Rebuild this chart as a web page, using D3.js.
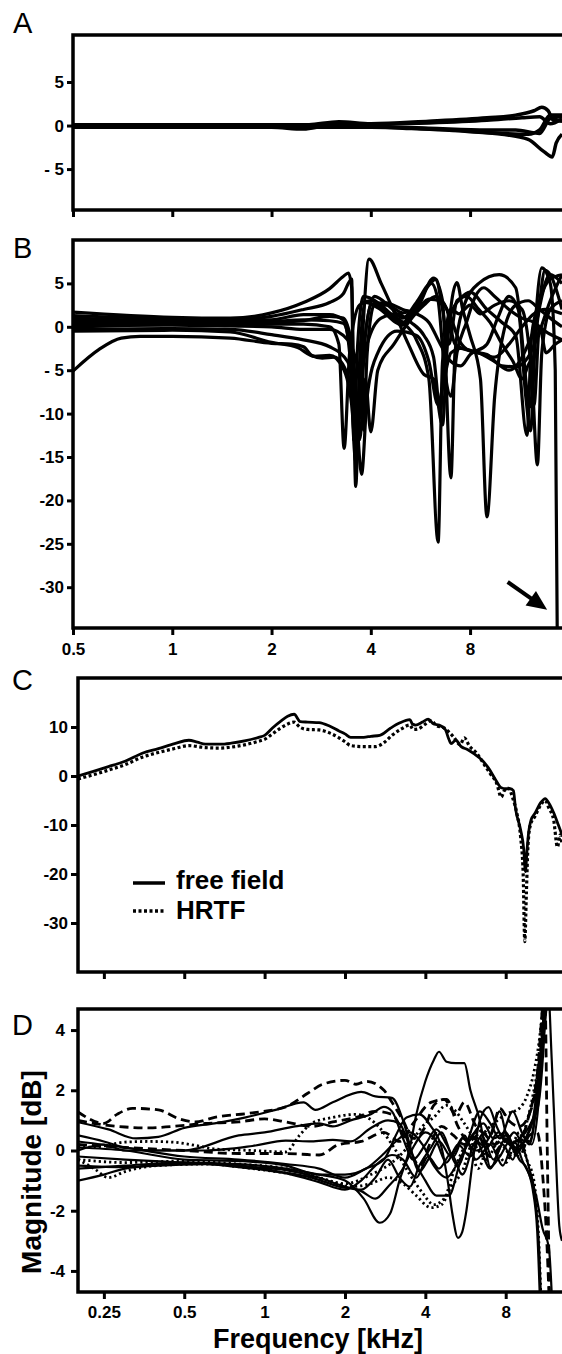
<!DOCTYPE html>
<html><head><meta charset="utf-8">
<script src="https://d3js.org/d3.v7.min.js"></script>
<style>body{margin:0;background:#fff} svg{display:block} text{font-family:"Liberation Sans",Arial,sans-serif}</style>
</head><body><svg id="c" width="562" height="1354"></svg>
<script>
// ---------- tick values / labels ----------
const xTicksAB = [0.5, 1, 2, 4, 8];
const xLabelsB = ["0.5", "1", "2", "4", "8"];
const xTicksCD = [0.25, 0.5, 1, 2, 4, 8];
const xLabelsD = ["0.25", "0.5", "1", "2", "4", "8"];
const yTicksA = [-5, 0, 5];
const yLabelsA = ["- 5", "0", "5"];
const yTicksB = [-30, -25, -20, -15, -10, -5, 0, 5];
const yLabelsB = ["-30", "-25", "-20", "-15", "-10", "- 5", "0", "5"];
const yTicksC = [-30, -20, -10, 0, 10];
const yLabelsC = ["-30", "-20", "-10", "0", "10"];
const yTicksD = [-4, -2, 0, 2, 4];
const yLabelsD = ["-4", "-2", "0", "2", "4"];
const panelLetters = ["A", "B", "C", "D"];
const legendLabels = ["free field", "HRTF"];

// ---------- Panel A data: [kHz, dB] ----------
const a1 = [[0.5,0],[2,0],[2.6,0.1],[3.2,0.45],[4,0.2],[6,0.5],[9,0.9],[11,1.2],[12.5,1.7],[13.2,2.1],[13.8,1.7],[14.3,0.6],[15.2,0.5]];
const a2 = [[0.5,-0.1],[2,-0.2],[2.5,-0.4],[3,0],[5,-0.3],[8,-0.7],[10,-1.0],[12,-1.6],[13.4,-3.0],[14.2,-3.6],[14.6,-2.0],[15.2,-1.0]];
const a3 = [[0.5,0.1],[3,0.1],[6,0.3],[9,0.6],[11.5,0.9],[13,1.0],[14,0.2],[15.2,0.8]];
const a4 = [[0.5,0],[3,0],[6,-0.3],[9,-0.5],[11,-0.5],[13,-0.9],[14,0.8],[15.2,1.0]];
const a5 = [[0.5,-0.2],[4,-0.2],[7,-0.5],[10,-0.9],[12,-1.0],[13,-0.5],[14,1.2],[15.2,1.2]];
const curvesA = [a1, a2, a3, a4, a5];

// ---------- Panel B data ----------
const b1 = [[0.5,1.7],[1,1.1],[1.5,1.0],[2,1.6],[2.5,2.8],[3,4.4],[3.3,5.8],[3.42,6.2],[3.5,4.5],[3.6,-18.4],[3.7,-4],[3.85,2.8],[4.2,2.2],[5,0.2],[5.6,2.5],[6.2,5.6],[6.6,3],[7,-17.4],[7.2,-3],[7.6,2],[8.5,5],[9.8,6],[11,4.5],[12.2,-9.2],[12.6,0],[13.2,6.8],[14,5],[14.5,-5],[14.7,-34.7]];
const b2 = [[0.5,1.3],[1,0.9],[1.5,0.8],[2,1.2],[2.5,2.0],[3,2.8],[3.3,3.8],[3.5,5.5],[3.55,-13],[3.65,-2],[3.8,3.5],[4.2,2.8],[4.6,1.5],[5,0.5],[5.5,-1.5],[6.0,-6],[6.4,-24.8],[6.6,-4],[7.0,1.5],[7.5,3.3],[8,4],[9,2],[10,0.5],[11,-1],[11.9,-12.5],[12.3,-1],[13,3],[14,5.5],[15.2,6]];
const b3 = [[0.5,1.0],[1,0.7],[1.5,0.7],[2,0.8],[2.5,1.4],[3,1.4],[3.3,0.8],[3.45,-3],[3.6,-15.5],[3.75,-3],[3.95,7.8],[4.3,5],[4.8,1],[5.2,-2],[5.8,-5.5],[6.2,-6],[6.6,-11.3],[6.8,-3],[7.3,5.1],[7.6,2],[8,-1],[8.6,-6],[9,-21.9],[9.5,-8],[10.2,0],[11,2.5],[12,3],[13,2],[14,1],[15.2,0]];
const b4 = [[0.5,0.5],[1,0.4],[1.5,0.3],[2,0.3],[2.5,0.3],[3,0.0],[3.2,-2],[3.32,-14],[3.45,-3],[3.7,2.5],[4.0,3.0],[4.5,1.5],[5,0.5],[5.5,2.5],[6.0,4.8],[6.3,5.5],[6.6,2],[6.9,-2],[7.3,3],[7.8,3.5],[8.5,2],[9.2,0.5],[10,-2],[10.8,-4],[11.5,-6],[12.2,-4],[12.8,-15.9],[13.2,-3],[14,2],[15.2,3]];
const b5 = [[0.5,0.2],[1,0.2],[1.5,0.1],[2,0.0],[2.5,-0.3],[3,-0.3],[3.4,-1.5],[3.7,-6],[3.8,-11.9],[3.9,-3],[4.1,2.5],[4.5,2.5],[5,1.6],[5.5,2.0],[6,3.2],[6.5,3],[7,1],[7.4,-1.5],[8,-2.8],[9,-3.2],[10,-4.5],[11,-4.6],[12,-3.5],[13,-0.5],[14,3],[15.2,6]];
const b6 = [[0.5,-0.3],[1,-0.2],[1.5,-0.3],[2,-0.9],[2.5,-1.5],[3,-2.3],[3.4,-4],[3.6,-8],[3.7,-13],[3.85,-6],[4.0,-12.1],[4.2,-5],[4.7,-2],[5.2,0.5],[5.8,2.5],[6.3,3.5],[6.8,2],[7.2,-2],[7.6,-2.5],[8.5,-3],[9.5,-4],[10.5,-5],[11.3,-4],[12,-2],[12.8,1],[13.5,6.5],[14,6],[15.2,2]];
const b7 = [[0.5,-0.5],[1,-0.4],[1.5,-0.6],[2,-1.8],[2.4,-2.4],[2.7,-3.4],[3,-3.3],[3.3,-4.8],[3.5,-9],[3.6,-14],[3.7,-8],[3.9,-2],[4.3,1.0],[4.8,1.5],[5.3,0.5],[5.8,-1],[6.2,-3.5],[6.5,-9.6],[6.7,-2],[7.0,2],[7.4,1.5],[8,2.5],[8.6,1.5],[9.5,2.5],[10.5,3.0],[11.5,2],[12.2,-4],[12.5,-9],[13,0],[13.6,-3],[14.5,-2],[15.2,-1.5]];
const b8 = [[0.5,-5.1],[0.6,-2.6],[0.7,-1.3],[0.8,-1.1],[1,-1.1],[1.5,-1.3],[2,-1.9],[2.3,-2.0],[2.5,-2.3],[2.65,-3.3],[2.85,-3.6],[3.1,-3.5],[3.4,-5.5],[3.6,-9],[3.75,-17],[3.9,-8],[4.2,-3],[4.8,-0.5],[5.5,-1],[6,-4],[6.4,-9],[6.6,-7],[7,-3],[7.5,-2.5],[8.5,-3],[9.5,-3.5],[10.5,-2],[11.5,0],[12.5,1.5],[13.5,2],[15.2,1.5]];
const b9 = [[0.5,0],[1,0.3],[1.5,0.5],[2,0.6],[2.5,0.8],[3,0.7],[3.3,0.4],[3.5,-4],[3.65,-12],[3.8,-3],[4.0,2.5],[4.4,2.8],[5,2.0],[5.5,1.5],[6,0.5],[6.5,-2],[7,-4],[7.5,-4.5],[8,-3.2],[9,-2],[9.7,1],[10.5,3.5],[11.2,2],[11.8,-8],[12.2,-12],[12.6,-2],[13.3,4],[14,6],[15.2,5]];
const b10 = [[0.5,0.8],[1,0.6],[1.5,0.6],[2,0.5],[2.5,0.7],[3,1.2],[3.3,1.0],[3.5,-2],[3.7,-10],[3.85,-1],[4.1,3.5],[4.6,2.2],[5,1],[5.5,2.8],[6.1,5],[6.4,3],[6.7,-5],[7.0,-8],[7.3,-3],[7.8,0.5],[8.3,3.5],[8.8,4.5],[9.5,3.5],[10.5,2],[11.5,1],[12.5,0.5],[13.5,-0.5],[15.2,-1.5]];
const curvesB = [b1, b2, b3, b4, b5, b6, b7, b8, b9, b10];
// arrow annotation (tail, tip) in [kHz, dB]
const arrowB = [[10.4, -29.4], [13.7, -32.6]];

// ---------- Panel C data ----------
const freeField = [[0.2,0],[0.23,1.0],[0.26,1.9],[0.3,3.0],[0.35,4.7],[0.4,5.6],[0.46,6.6],[0.52,7.3],[0.56,6.9],[0.6,6.5],[0.68,6.5],[0.75,6.7],[0.85,7.2],[0.95,7.9],[1.0,8.3],[1.07,9.8],[1.15,11.2],[1.22,12.2],[1.29,12.6],[1.36,11.1],[1.45,11.0],[1.6,10.9],[1.75,10.2],[1.9,9.2],[2.0,8.6],[2.1,7.9],[2.35,7.9],[2.5,8.1],[2.7,8.3],[2.95,9.7],[3.2,10.8],[3.5,11.5],[3.58,10.6],[3.68,10.4],[3.9,11.0],[4.1,11.6],[4.3,10.6],[4.5,10.4],[4.75,9.5],[4.9,7.5],[5.0,6.6],[5.2,7.3],[5.45,6.0],[5.75,5.4],[6.1,4.5],[6.5,3.3],[6.9,1.6],[7.3,-0.6],[7.7,-2.4],[8.0,-2.6],[8.3,-2.6],[8.55,-3.0],[8.7,-6.5],[9.1,-11],[9.35,-15],[9.48,-19.5],[9.62,-15],[9.75,-11.5],[9.95,-9],[10.3,-7.6],[10.8,-5.5],[11.25,-4.6],[11.6,-5.5],[12.1,-7.5],[12.6,-10],[13,-12]];
const hrtf = [[0.2,-0.6],[0.23,0.3],[0.26,1.2],[0.3,2.3],[0.35,3.9],[0.4,4.8],[0.46,5.6],[0.52,6.2],[0.6,5.8],[0.68,5.7],[0.75,5.9],[0.85,6.4],[0.95,7.1],[1.0,7.5],[1.07,8.6],[1.15,9.8],[1.22,10.6],[1.29,11.0],[1.36,9.9],[1.45,9.5],[1.6,9.4],[1.75,8.8],[1.9,7.8],[2.0,7.0],[2.1,6.2],[2.35,6.0],[2.6,6.0],[2.8,6.8],[3.0,8.3],[3.25,9.6],[3.5,10.4],[3.6,9.5],[3.75,9.6],[4.0,10.6],[4.2,11.3],[4.4,10.3],[4.7,9.8],[4.9,9.0],[5.1,8.0],[5.4,6.4],[5.6,7.8],[5.85,6.1],[6.2,4.8],[6.6,2.6],[7.0,0.5],[7.4,-1.5],[7.7,-4.3],[7.9,-3.0],[8.2,-2.5],[8.5,-4.5],[8.8,-7.5],[9.1,-12.5],[9.3,-20],[9.43,-33.8],[9.56,-24],[9.7,-14],[9.9,-10],[10.3,-8.2],[10.8,-6],[11.25,-5],[11.6,-6.5],[12.1,-9],[12.5,-14.5],[12.8,-12],[13,-14]];

// ---------- Panel D data ----------
const dc1 = [[0.2,0.94],[0.26,0.7],[0.33,0.4],[0.4,0.45],[0.5,0.75],[0.65,0.9],[0.85,1.1],[1.1,1.35],[1.4,1.6],[1.55,1.35],[1.8,1.6],[2.3,1.95],[2.6,1.8],[3.0,1.75],[3.3,1.0],[3.6,-0.2],[4.0,-1.0],[4.4,-1.5],[4.9,-1.5],[5.4,-0.4],[6,0.4],[6.8,0.1],[7.5,0.6],[8.3,0.2],[9,0.4],[9.8,0.8],[10.5,1.6],[11.0,3.4],[11.4,4.8],[11.7,5.5]];
const dc2 = [[0.2,1.28],[0.25,0.9],[0.28,1.2],[0.32,1.4],[0.4,1.35],[0.48,1.05],[0.55,0.95],[0.65,1.1],[0.9,1.25],[1.2,1.45],[1.45,1.9],[1.65,2.2],[2.0,2.33],[2.2,2.2],[2.4,2.3],[2.8,2.0],[3.0,1.6],[3.3,1.0],[3.6,0.4],[4.0,0.8],[4.3,1.5],[4.7,1.7],[5.2,1.2],[5.6,1.6],[6.2,0.8],[7,0.5],[7.6,1.4],[8.2,1.0],[9,0.8],[9.8,1.2],[10.5,2.5],[11.0,4.8],[11.2,5.5],[11.45,0],[11.7,-5.5]];
const dc3 = [[0.2,1.0],[0.25,0.85],[0.3,0.78],[0.37,0.75],[0.45,0.8],[0.6,0.9],[0.8,0.95],[1.0,1.05],[1.2,0.95],[1.5,0.8],[1.8,0.95],[2.2,1.1],[2.6,1.3],[3.0,1.2],[3.4,0.3],[3.8,-0.5],[4.2,0.3],[4.6,0.8],[5.1,0.5],[5.6,0.2],[6.2,0.6],[7,-0.2],[8,0.3],[9,-0.2],[9.8,0.5],[10.5,0.6],[11.0,-0.8],[11.4,-3],[11.7,-5.5]];
const dc4 = [[0.2,0.2],[0.3,0.1],[0.5,0.0],[0.8,-0.1],[1.2,-0.1],[1.6,-0.15],[1.9,0.2],[2.3,0.3],[2.8,0.6],[3.2,0.3],[3.6,0.9],[4.2,1.6],[4.8,1.7],[5.3,0.8],[5.8,0.3],[6.5,0.6],[7.3,0.2],[8,0.5],[9,0.3],[9.8,1.2],[10.4,2.2],[11.0,4],[11.4,5.5]];
const dc5 = [[0.2,0.1],[0.25,0.15],[0.3,0.28],[0.37,0.3],[0.45,0.28],[0.55,0.17],[0.65,0.05],[0.9,0],[1.2,-0.05],[1.35,0.5],[1.5,0.9],[1.8,1.1],[2.2,1.2],[2.6,0.9],[3.0,0.2],[3.5,-0.8],[3.9,-1.4],[4.3,-1.8],[4.7,-1.6],[5.2,-0.5],[5.8,0.2],[6.3,-0.6],[7,0.3],[8,-0.4],[9,0.6],[9.6,-0.3],[10.2,-1],[10.6,-2.7],[10.9,-5.5]];
const dc6 = [[0.2,-0.3],[0.23,-0.6],[0.26,-0.9],[0.3,-0.7],[0.4,-0.5],[0.6,-0.45],[0.9,-0.6],[1.3,-0.8],[1.7,-1.0],[2.1,-1.2],[2.5,-1.1],[2.9,-0.9],[3.3,-1.1],[3.7,-1.5],[4.2,-1.9],[4.6,-1.8],[5.0,-1.2],[5.5,-0.7],[6,0.2],[6.8,-0.3],[7.5,0.3],[8.5,-0.2],[9.5,0.8],[10.1,1.8],[10.7,3.2],[11.2,5.5]];
const dc7 = [[0.2,-0.3],[0.3,-0.4],[0.5,-0.35],[0.8,-0.45],[1.2,-0.6],[1.6,-0.9],[2.0,-1.1],[2.5,-0.8],[3.0,-0.4],[3.5,0.2],[3.9,0.8],[4.3,1.1],[4.8,1.5],[5.2,1.3],[5.6,0.9],[6.2,0.4],[7,0.8],[8,1.2],[9,1.4],[9.6,1.8],[10.2,2.6],[10.8,4],[11.2,5.5]];
const dc8 = [[0.2,-0.5],[0.3,-0.55],[0.5,-0.4],[0.8,-0.45],[1.2,-0.6],[1.6,-0.8],[2.0,-1.0],[2.35,-1.6],[2.7,-2.4],[2.95,-2.1],[3.2,-1.0],[3.5,0.1],[3.7,1.2],[4.0,2.3],[4.3,3.0],[4.5,3.28],[4.8,2.95],[5.2,2.9],[5.6,2.9],[5.9,2.0],[6.4,1.0],[6.7,0.1],[7.0,-0.55],[7.6,-0.2],[8.3,0.3],[9,-0.3],[9.6,-0.6],[10.1,-1.3],[10.5,-2.7],[10.8,-5.5]];
const dc9 = [[0.2,0.3],[0.3,0.1],[0.5,-0.2],[0.8,-0.3],[1.2,-0.45],[1.6,-0.6],[2.0,-0.9],[2.4,-0.6],[2.8,-0.3],[3.1,0.5],[3.4,1.1],[3.8,1.2],[4.2,0.8],[4.6,0.1],[4.85,-1.0],[5.05,-2.1],[5.3,-2.9],[5.5,-2.7],[5.7,-2.0],[6.0,-0.45],[6.4,1.0],[6.9,1.44],[7.4,0.8],[8,0.3],[8.6,0.6],[9.2,0.2],[9.8,-0.6],[10.3,-1.5],[10.7,-3.5],[10.9,-5.5]];
const dc10 = [[0.2,0.5],[0.25,0.3],[0.3,0.1],[0.4,0.0],[0.6,0.0],[0.9,0.15],[1.2,0.33],[1.5,0.3],[1.8,0.35],[2.1,0.3],[2.5,0.75],[2.9,1.0],[3.2,0.9],[3.5,0.1],[3.8,-0.7],[4.1,-0.3],[4.5,0.3],[5.0,-0.2],[5.5,0.4],[6.2,0.0],[7,0.5],[7.6,1.3],[8,0.6],[8.8,0.1],[9.5,0.3],[10,0.2],[10.6,1.5],[11.1,4.2],[11.4,5.5]];
const dc11 = [[0.2,0.0],[0.25,0.2],[0.3,0.0],[0.5,0.0],[0.8,0.5],[1.0,0.6],[1.3,0.8],[1.6,0.9],[1.8,0.8],[2.1,1.0],[2.5,1.2],[2.8,1.45],[3.0,1.3],[3.3,0.4],[3.6,-0.3],[4.0,0.2],[4.4,0.7],[4.8,0.2],[5.3,-0.5],[5.8,0.4],[6.4,1.3],[7,0.9],[7.6,0.4],[8.5,1.3],[9.2,0.6],[9.8,0.2],[10.4,1.4],[10.9,3.4],[11.3,5.5]];
const dc12 = [[0.2,-0.6],[0.3,-0.5],[0.5,-0.4],[0.8,-0.55],[1.1,-0.7],[1.5,-0.9],[1.9,-1.2],[2.3,-1.35],[2.6,-1.6],[2.9,-1.2],[3.3,-0.6],[3.6,0.1],[4.0,0.6],[4.4,0.3],[4.8,-0.4],[5.3,0.2],[5.9,-0.2],[6.5,0.5],[7.2,-0.3],[8,0.4],[8.8,-0.1],[9.5,0.4],[10.1,1],[10.7,2.8],[11.2,4.5],[11.5,5.5],[11.9,3],[12.3,0],[12.7,-2.5],[13,-3]];
const dc13 = [[0.2,-1.0],[0.25,-0.8],[0.3,-0.6],[0.4,-0.5],[0.6,-0.45],[0.9,-0.55],[1.2,-0.65],[1.6,-0.9],[2.0,-1.2],[2.3,-1.3],[2.6,-0.9],[2.9,-0.3],[3.2,-0.9],[3.5,-1.2],[3.8,-0.5],[4.2,0.1],[4.6,0.6],[5.1,-0.2],[5.6,0.5],[6.2,-0.3],[7,0.2],[7.8,-0.5],[8.6,0.3],[9.3,-0.4],[9.8,-0.8],[10.4,-1.5],[11.0,-2.6],[11.6,-3.2],[12.0,-5.5]];
const dc14 = [[0.2,-0.2],[0.3,-0.3],[0.5,-0.4],[0.8,-0.5],[1.2,-0.75],[1.6,-1.05],[2.0,-1.3],[2.3,-1.0],[2.6,-0.5],[3.0,-0.15],[3.3,-0.3],[3.7,-0.9],[4.1,-0.2],[4.5,-0.6],[5,-0.1],[5.5,-0.8],[6.2,0.3],[7,-0.6],[7.8,0.2],[8.5,-0.3],[9.2,0.5],[9.8,0.3],[10.4,1.5],[11,4],[11.3,5.5]];
const dc15 = [[0.2,0.1],[0.3,0.0],[0.5,-0.3],[0.8,-0.35],[1.2,-0.5],[1.6,-0.8],[2.0,-0.8],[2.4,-0.6],[2.8,-0.1],[3.1,0.3],[3.5,0.6],[3.9,0.2],[4.3,-0.5],[4.8,-0.9],[5.3,-0.4],[6.0,0.5],[6.6,0.9],[7.2,0.4],[8,0.6],[8.8,0.0],[9.5,0.4],[10,0.9],[10.6,1.5],[11.1,3.5],[11.4,5.5]];
const curvesD = [dc1, dc2, dc3, dc4, dc5, dc6, dc7, dc8, dc9, dc10, dc11, dc12, dc13, dc14, dc15];
// line style of each D curve (style only)
const styleD = ["solid","dashed","dashed","dashed","dotted","dotted","dotted","solid","solid","solid","solid","solid","solid","solid","solid"];

// ---------- drawing ----------
const svg = d3.select("#c");
const FONT = '"Liberation Sans", Arial, sans-serif';
const RIGHT = 566;

const xAB = d3.scaleLog().domain([0.5, 15.2]).range([73, 562]);
const xCD = d3.scaleLog().domain([0.2, 13]).range([78, 562]);
const yA = d3.scaleLinear().domain([-9.7, 10.4]).range([210, 35]);
const yB = d3.scaleLinear().domain([-34.7, 10]).range([628, 240]);
const yC = d3.scaleLinear().domain([-40, 20]).range([972, 678]);
const yD = d3.scaleLinear().domain([-4.7, 4.7]).range([1292, 1009]);

function panel(id, x, y, yTicks, yLabels, xTicks, xLabels, opts) {
  const [y1, y0] = y.range();
  const x0 = x.range()[0];
  const g = svg.append("g");
  g.append("clipPath").attr("id", "clip" + id)
    .append("rect").attr("x", x0).attr("y", y0).attr("width", RIGHT - x0).attr("height", y1 - y0);
  const plot = g.append("g").attr("clip-path", `url(#clip${id})`);
  const ya = g.append("g").attr("transform", `translate(${x0},0)`)
    .call(d3.axisLeft(y).tickValues(yTicks).tickSize(opts.yTick).tickPadding(opts.yPad)
      .tickFormat((d, i) => yLabels[i]));
  ya.select(".domain").remove();
  ya.selectAll("line").attr("stroke", "#000").attr("stroke-width", 3);
  ya.selectAll("text").attr("font-family", FONT).attr("font-weight", "bold")
    .attr("font-size", opts.fs).attr("fill", "#000");
  const xa = g.append("g").attr("transform", `translate(0,${y1})`)
    .call(d3.axisBottom(x).tickValues(xTicks).tickSize(7).tickPadding(opts.xPad)
      .tickFormat((d, i) => xLabels ? xLabels[i] : ""));
  xa.select(".domain").remove();
  xa.selectAll("line").attr("stroke", "#000").attr("stroke-width", 3);
  xa.selectAll("text").attr("font-family", FONT).attr("font-weight", "bold")
    .attr("font-size", opts.fs).attr("fill", "#000");
  g.append("rect").attr("x", x0).attr("y", y0).attr("width", RIGHT + 10 - x0).attr("height", y1 - y0)
    .attr("fill", "none").attr("stroke", "#000").attr("stroke-width", 3.5);
  return plot;
}

function letter(t, x, y) {
  svg.append("text").attr("x", x).attr("y", y).text(t)
    .attr("font-family", FONT).attr("font-size", 29).attr("fill", "#000");
}

const mkLine = (x, y) => d3.line().x(d => x(d[0])).y(d => y(d[1])).curve(d3.curveMonotoneX);

// Panel A
const pA = panel("A", xAB, yA, yTicksA, yLabelsA, xTicksAB, null, {yTick: 6, yPad: 3, xPad: 8, fs: 17});
curvesA.forEach(c => pA.append("path").attr("d", mkLine(xAB, yA)(c))
  .attr("fill", "none").attr("stroke", "#000").attr("stroke-width", 3.5).attr("stroke-linejoin", "round"));
letter(panelLetters[0], 13, 33);

// Panel B
const pB = panel("B", xAB, yB, yTicksB, yLabelsB, xTicksAB, xLabelsB, {yTick: 6, yPad: 3, xPad: 8, fs: 17});
curvesB.forEach(c => pB.append("path").attr("d", mkLine(xAB, yB)(c))
  .attr("fill", "none").attr("stroke", "#000").attr("stroke-width", 3.2).attr("stroke-linejoin", "round"));
letter(panelLetters[1], 13, 258);
{
  const [t, h] = arrowB;
  const tx = xAB(t[0]), ty = yB(t[1]), hx = xAB(h[0]), hy = yB(h[1]);
  const dx = hx - tx, dy = hy - ty, L = Math.hypot(dx, dy), ux = dx / L, uy = dy / L;
  const hl = 20, hw = 9;
  const bx = hx - ux * hl, by = hy - uy * hl;
  svg.append("line").attr("x1", tx).attr("y1", ty).attr("x2", bx + ux * 2).attr("y2", by + uy * 2)
    .attr("stroke", "#000").attr("stroke-width", 4);
  svg.append("path").attr("d", `M${hx},${hy}L${bx - uy * hw},${by + ux * hw}L${bx + uy * hw},${by - ux * hw}Z`).attr("fill", "#000");
}

// Panel C
const pC = panel("C", xCD, yC, yTicksC, yLabelsC, xTicksCD, null, {yTick: 7, yPad: 3, xPad: 8, fs: 17});
pC.append("path").attr("d", mkLine(xCD, yC)(freeField)).attr("fill", "none").attr("stroke", "#000").attr("stroke-width", 2.8);
pC.append("path").attr("d", mkLine(xCD, yC)(hrtf)).attr("fill", "none").attr("stroke", "#000").attr("stroke-width", 3.2).attr("stroke-dasharray", "3,2.5");
letter(panelLetters[2], 12, 690);
svg.append("line").attr("x1", 133).attr("x2", 165).attr("y1", 883).attr("y2", 883).attr("stroke", "#000").attr("stroke-width", 3.5);
svg.append("line").attr("x1", 133).attr("x2", 165).attr("y1", 911).attr("y2", 911).attr("stroke", "#000").attr("stroke-width", 3.5).attr("stroke-dasharray", "3,2.5");
svg.append("text").attr("x", 176).attr("y", 889).text(legendLabels[0]).attr("font-family", FONT).attr("font-weight", "bold").attr("font-size", 26);
svg.append("text").attr("x", 176).attr("y", 919).text(legendLabels[1]).attr("font-family", FONT).attr("font-weight", "bold").attr("font-size", 26);

// Panel D
const pD = panel("D", xCD, yD, yTicksD, yLabelsD, xTicksCD, xLabelsD, {yTick: 7, yPad: 6, xPad: 7, fs: 17});
const dash = {solid: null, dashed: "9,5", dotted: "2.2,3"};
const wid = {solid: 2.2, dashed: 2.8, dotted: 2.8};
curvesD.forEach((c, i) => pD.append("path").attr("d", mkLine(xCD, yD)(c))
  .attr("fill", "none").attr("stroke", "#000").attr("stroke-width", wid[styleD[i]])
  .attr("stroke-dasharray", dash[styleD[i]]).attr("stroke-linejoin", "round"));
letter(panelLetters[3], 12, 1035);
svg.append("text").attr("transform", "translate(41,1172) rotate(-90)").attr("text-anchor", "middle")
  .text("Magnitude [dB]").attr("font-family", FONT).attr("font-weight", "bold").attr("font-size", 28);
svg.append("text").attr("x", 318).attr("y", 1348).attr("text-anchor", "middle")
  .text("Frequency [kHz]").attr("font-family", FONT).attr("font-weight", "bold").attr("font-size", 27);
</script></body></html>
